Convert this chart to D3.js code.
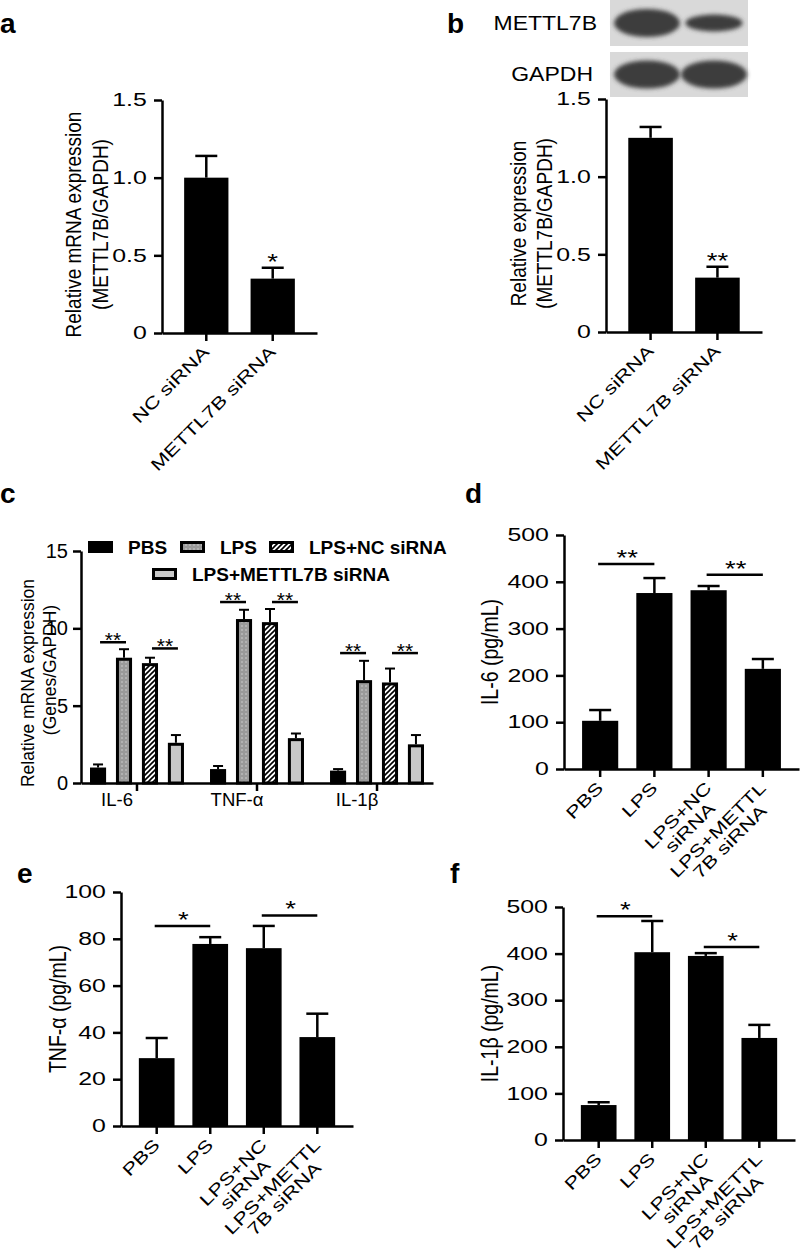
<!DOCTYPE html>
<html>
<head>
<meta charset="utf-8">
<script src="https://cdn.jsdelivr.net/npm/d3@7"></script>
<style>
  body { margin: 0; background: #fff; }
  svg { display: block; font-family: "Liberation Sans", Arial, sans-serif; }
</style>
</head>
<body>
<svg id="fig" width="800" height="1253"></svg>
<script>
// ---- data ----
var siCats = ["NC siRNA", "METTL7B siRNA"];
var aMean = [1.0, 0.35];
var aSem = [0.14, 0.07];
var aStars = ["", "*"];
var bMean = [1.25, 0.35];
var bSem = [0.07, 0.07];
var bStars = ["", "**"];
var blotLabels = ["METTL7B", "GAPDH"];
var blotBands = [[1.0, 0.6], [1.0, 1.0]];   // relative band strength per lane
var siTicks = [0, 0.5, 1.0, 1.5];

var cGroups = ["IL-6", "TNF-α", "IL-1β"];
var cSeries = ["PBS", "LPS", "LPS+NC siRNA", "LPS+METTL7B siRNA"];
var cMean = [[1.0, 8.1, 7.75, 2.6], [0.9, 10.6, 10.4, 2.9], [0.8, 6.65, 6.5, 2.5]];
var cSem = [[0.2, 0.55, 0.35, 0.5], [0.2, 0.6, 0.85, 0.3], [0.1, 1.25, 0.9, 0.6]];
var cSig = [[9.1, 8.7], [11.7, 11.7], [8.4, 8.4]];   // bracket heights: PBS-LPS, NC-METTL7B
var cTicks = [0, 5, 10, 15];

var treatCats = ["PBS", "LPS", "LPS+NC siRNA", "LPS+METTL7B siRNA"];
var treatLabels = [["PBS"], ["LPS"], ["LPS+NC", "siRNA"], ["LPS+METTL", "7B siRNA"]];
var dMean = [103, 376, 382, 214];
var dSem = [23, 32, 9, 21];
var dSig = [["PBS", "LPS", 438, "**"], ["LPS+NC siRNA", "LPS+METTL7B siRNA", 415, "**"]];
var eMean = [29, 77.8, 76, 38];
var eSem = [8.6, 2.9, 9.5, 10];
var eSig = [["PBS", "LPS", 85.5, "*"], ["LPS+NC siRNA", "LPS+METTL7B siRNA", 90, "*"]];
var fMean = [75, 403, 395, 219];
var fSem = [6, 67, 6, 28];
var fSig = [["PBS", "LPS", 480, "*"], ["LPS+NC siRNA", "LPS+METTL7B siRNA", 414, "*"]];
var cytoTicks = [0, 100, 200, 300, 400, 500];
var tnfTicks = [0, 20, 40, 60, 80, 100];

// ---- drawing ----
var svg = d3.select("#fig");
var defs = svg.append("defs");

var dots = defs.append("pattern").attr("id", "dots")
  .attr("patternUnits", "userSpaceOnUse").attr("width", 4).attr("height", 4);
dots.append("rect").attr("width", 4).attr("height", 4).attr("fill", "#9a9a9a");
dots.append("circle").attr("cx", 2).attr("cy", 2).attr("r", 0.75).attr("fill", "#d6d6d6");

var hatch = defs.append("pattern").attr("id", "hatch")
  .attr("patternUnits", "userSpaceOnUse").attr("width", 5).attr("height", 5);
hatch.append("rect").attr("width", 5).attr("height", 5).attr("fill", "#fff");
hatch.append("path").attr("d", "M-1,1 l2,-2 M0,5 l5,-5 M4,6 l2,-2")
  .attr("stroke", "#000").attr("stroke-width", 1.6);

defs.append("filter").attr("id", "blur")
  .attr("x", "-30%").attr("y", "-60%").attr("width", "160%").attr("height", "220%")
  .append("feGaussianBlur").attr("stdDeviation", 2.2);

var cFills = ["#000", "url(#dots)", "url(#hatch)", "#c8c8c8"];
var STRETCH = 1.38;   // panels a, b, d-f were widened in the original figure

function fmtRatio(d) { return d === 0 ? "0" : d3.format(".1f")(d); }

function styleAxis(a, size) {
  a.attr("font-family", null).attr("font-size", size);
  a.selectAll("path, line").attr("stroke", "#000").attr("stroke-width", 2.5);
  a.selectAll("text").attr("fill", "#000");
}

function panelLabel(t, x, y) {
  svg.append("text").attr("x", x).attr("y", y)
    .attr("font-size", 28).attr("font-weight", "bold").text(t);
}

function barPanel(o) {
  var x = d3.scaleBand().domain(o.cats).range([o.left, o.right])
    .paddingInner(1 / 3).paddingOuter(1 / 3);
  var y = d3.scaleLinear().domain([0, o.max]).range([o.bottom, o.top]);
  var cx = function(d) { return x(d) + x.bandwidth() / 2; };
  var g = svg.append("g");

  g.selectAll(".bar").data(o.cats).enter().append("rect")
    .attr("x", function(d) { return x(d); })
    .attr("y", function(d, i) { return y(o.mean[i]); })
    .attr("width", x.bandwidth())
    .attr("height", function(d, i) { return y(0) - y(o.mean[i]); })
    .attr("fill", "#000");

  var eg = g.selectAll(".err").data(o.cats).enter().append("g")
    .attr("stroke", "#000").attr("stroke-width", 2.5);
  eg.append("line")
    .attr("x1", cx).attr("x2", cx)
    .attr("y1", function(d, i) { return y(o.mean[i]); })
    .attr("y2", function(d, i) { return y(o.mean[i] + o.sem[i]); });
  eg.append("line")
    .attr("x1", function(d) { return cx(d) - 11; })
    .attr("x2", function(d) { return cx(d) + 11; })
    .attr("y1", function(d, i) { return y(o.mean[i] + o.sem[i]); })
    .attr("y2", function(d, i) { return y(o.mean[i] + o.sem[i]); });

  if (o.stars) {
    g.selectAll(".star").data(o.cats).enter().append("text")
      .attr("transform", function(d, i) {
        return "translate(" + cx(d) + "," + (y(o.mean[i] + o.sem[i]) + 1) + ") scale(1.25,1)";
      })
      .attr("text-anchor", "middle").attr("font-size", 22)
      .text(function(d, i) { return o.stars[i]; });
  }

  (o.sig || []).forEach(function(s) {
    var yy = y(s[2]);
    g.append("line").attr("x1", cx(s[0]) - 2).attr("x2", cx(s[1]))
      .attr("y1", yy).attr("y2", yy).attr("stroke", "#000").attr("stroke-width", 2.5);
    g.append("text")
      .attr("transform", "translate(" + ((cx(s[0]) + cx(s[1])) / 2) + "," + (yy + 1) + ") scale(1.25,1)")
      .attr("text-anchor", "middle").attr("font-size", 22).text(s[3]);
  });

  var ya = g.append("g").attr("transform", "translate(" + o.left + ",0)")
    .call(d3.axisLeft(y).tickValues(o.ticks).tickFormat(o.fmt)
      .tickSize(8).tickSizeOuter(0).tickPadding(3));
  styleAxis(ya, 18);
  ya.selectAll(".tick text").attr("transform", "scale(" + STRETCH + ",1)");

  var xa = g.append("g").attr("transform", "translate(0," + o.bottom + ")")
    .call(d3.axisBottom(x).tickSize(8).tickSizeOuter(0));
  xa.selectAll(".tick text").remove();
  styleAxis(xa, 18);

  o.cats.forEach(function(c, i) {
    var lines = o.labels[i];
    var lg = g.append("g")
      .attr("transform", "translate(" + (cx(c) + 4) + "," + (o.bottom + 20) + ") rotate(-45) scale(1.3,1)");
    var t1 = lg.append("text").attr("text-anchor", "end").attr("font-size", 17).text(lines[0]);
    if (lines.length > 1) {
      var w = t1.node().getComputedTextLength();
      lg.append("text").attr("text-anchor", "middle").attr("x", -w / 2).attr("y", 17)
        .attr("font-size", 17).text(lines[1]);
    }
  });

  var tmid = (o.top + o.bottom) / 2 + (o.titleShift || 0);
  o.title.forEach(function(t, k) {
    g.append("text")
      .attr("transform", "translate(" + o.titleX[k] + "," + tmid + ") scale(1.2,1) rotate(-90)")
      .attr("text-anchor", "middle").attr("dominant-baseline", "central")
      .attr("font-size", o.titleSize || 19.5).text(t);
  });
}

// ---- a ----
panelLabel("a", 0, 33);
barPanel({
  cats: siCats, mean: aMean, sem: aSem, stars: aStars,
  labels: siCats.map(function(d) { return [d]; }),
  left: 162, right: 317, top: 100, bottom: 333, max: 1.5,
  ticks: siTicks, fmt: fmtRatio,
  title: ["Relative mRNA expression", "(METTL7B/GAPDH)"], titleX: [73, 100],
  titleSize: 19, titleShift: 8
});

// ---- b ----
panelLabel("b", 447, 33);
var blot = svg.append("g");
blotLabels.forEach(function(name, r) {
  var top = r === 0 ? 0 : 52, h = r === 0 ? 46 : 45;
  blot.append("rect").attr("x", 610).attr("y", top).attr("width", 138).attr("height", h)
    .attr("fill", "#d9d9d9");
  blot.append("text")
    .attr("transform", "translate(" + (r === 0 ? 597 : 593) + "," + (top + h / 2) + ") scale(1.15,1)")
    .attr("text-anchor", "end").attr("dominant-baseline", "central")
    .attr("font-size", 20).text(name);
  blotBands[r].forEach(function(v, l) {
    blot.append("ellipse")
      .attr("cx", l === 0 ? 647 : 714).attr("cy", top + h / 2)
      .attr("rx", 22 + 11 * v).attr("ry", 14 * v)
      .attr("fill", "#3e3e3e").attr("filter", "url(#blur)");
  });
});
barPanel({
  cats: siCats, mean: bMean, sem: bSem, stars: bStars,
  labels: siCats.map(function(d) { return [d]; }),
  left: 606, right: 762, top: 99, bottom: 332, max: 1.5,
  ticks: siTicks, fmt: fmtRatio,
  title: ["Relative expression", "(METTL7B/GAPDH)"], titleX: [518, 544],
  titleSize: 19, titleShift: 8
});

// ---- c ----
panelLabel("c", 0, 503);
(function() {
  var left = 81, right = 433, top = 551, bottom = 783;
  var x0 = d3.scaleBand().domain(cGroups).range([left, right]).paddingInner(0.217).paddingOuter(0.075);
  var x1 = d3.scaleBand().domain(cSeries).range([0, x0.bandwidth()]).paddingInner(0.38).paddingOuter(0);
  var y = d3.scaleLinear().domain([0, 15]).range([bottom, top]);
  var g = svg.append("g");
  var bw = x1.bandwidth();
  var cx = function(gi, si) { return x0(cGroups[gi]) + x1(cSeries[si]) + bw / 2; };

  cGroups.forEach(function(grp, gi) {
    var gg = g.append("g");
    gg.selectAll("rect").data(cSeries).enter().append("rect")
      .attr("x", function(s) { return x0(grp) + x1(s) + 1.5; })
      .attr("y", function(s, si) { return y(cMean[gi][si]) + 1.5; })
      .attr("width", bw - 3)
      .attr("height", function(s, si) { return y(0) - y(cMean[gi][si]) - 1.5; })
      .attr("fill", function(s, si) { return cFills[si]; })
      .attr("stroke", "#000").attr("stroke-width", 3);
    var eg = gg.selectAll(".err").data(cSeries).enter().append("g")
      .attr("stroke", "#000").attr("stroke-width", 2);
    eg.append("line")
      .attr("x1", function(s, si) { return cx(gi, si); })
      .attr("x2", function(s, si) { return cx(gi, si); })
      .attr("y1", function(s, si) { return y(cMean[gi][si]); })
      .attr("y2", function(s, si) { return y(cMean[gi][si] + cSem[gi][si]); });
    eg.append("line")
      .attr("x1", function(s, si) { return cx(gi, si) - 5; })
      .attr("x2", function(s, si) { return cx(gi, si) + 5; })
      .attr("y1", function(s, si) { return y(cMean[gi][si] + cSem[gi][si]); })
      .attr("y2", function(s, si) { return y(cMean[gi][si] + cSem[gi][si]); });
    [[0, 1], [2, 3]].forEach(function(pair, k) {
      var yy = y(cSig[gi][k]);
      var xa = cx(gi, pair[0]) + 2, xb = cx(gi, pair[1]) + 2;
      gg.append("line").attr("x1", xa).attr("x2", xb).attr("y1", yy).attr("y2", yy)
        .attr("stroke", "#000").attr("stroke-width", 2.5);
      gg.append("text").attr("x", (xa + xb) / 2).attr("y", yy + 5)
        .attr("text-anchor", "middle").attr("font-size", 21).text("**");
    });
  });

  var ya = g.append("g").attr("transform", "translate(" + left + ",0)")
    .call(d3.axisLeft(y).tickValues(cTicks).tickSize(8).tickSizeOuter(0).tickPadding(5));
  styleAxis(ya, 20);
  var xa = g.append("g").attr("transform", "translate(0," + bottom + ")")
    .call(d3.axisBottom(x0).tickSize(8).tickSizeOuter(0).tickPadding(2));
  styleAxis(xa, 18.5);
  xa.selectAll(".tick text").attr("dx", -20);

  g.append("text").attr("transform", "translate(28," + ((top + bottom) / 2 + 16) + ") rotate(-90)")
    .attr("text-anchor", "middle").attr("dominant-baseline", "central")
    .attr("font-size", 17.5).text("Relative mRNA expression");
  g.append("text").attr("transform", "translate(50," + ((top + bottom) / 2 + 3) + ") rotate(-90)")
    .attr("text-anchor", "middle").attr("dominant-baseline", "central")
    .attr("font-size", 17.5).text("(Genes/GAPDH)");

  // legend
  var legPos = [[88, 547], [180, 547], [269, 547], [152, 574]];
  var lg = g.selectAll(".leg").data(cSeries).enter().append("g")
    .attr("transform", function(d, i) { return "translate(" + legPos[i][0] + "," + legPos[i][1] + ")"; });
  lg.append("rect").attr("x", 1.5).attr("y", -4.5).attr("width", 22).attr("height", 9)
    .attr("fill", function(d, i) { return cFills[i]; })
    .attr("stroke", "#000").attr("stroke-width", 3);
  lg.append("text").attr("x", 40).attr("dominant-baseline", "central")
    .attr("font-size", 19).attr("font-weight", "bold").text(function(d) { return d; });
})();

// ---- d ----
panelLabel("d", 465, 503);
barPanel({
  cats: treatCats, mean: dMean, sem: dSem, sig: dSig, labels: treatLabels,
  left: 564, right: 799, top: 535, bottom: 769, max: 500,
  ticks: cytoTicks, fmt: d3.format("d"),
  title: ["IL-6 (pg/mL)"], titleX: [490]
});

// ---- e ----
panelLabel("e", 17, 883);
barPanel({
  cats: treatCats, mean: eMean, sem: eSem, sig: eSig, labels: treatLabels,
  left: 121, right: 353, top: 892, bottom: 1126, max: 100,
  ticks: tnfTicks, fmt: d3.format("d"),
  title: ["TNF-α (pg/mL)"], titleX: [58]
});

// ---- f ----
panelLabel("f", 450, 883);
barPanel({
  cats: treatCats, mean: fMean, sem: fSem, sig: fSig, labels: treatLabels,
  left: 563, right: 795, top: 907, bottom: 1140, max: 500,
  ticks: cytoTicks, fmt: d3.format("d"),
  title: ["IL-1β  (pg/mL)"], titleX: [490]
});
</script>
</body>
</html>
